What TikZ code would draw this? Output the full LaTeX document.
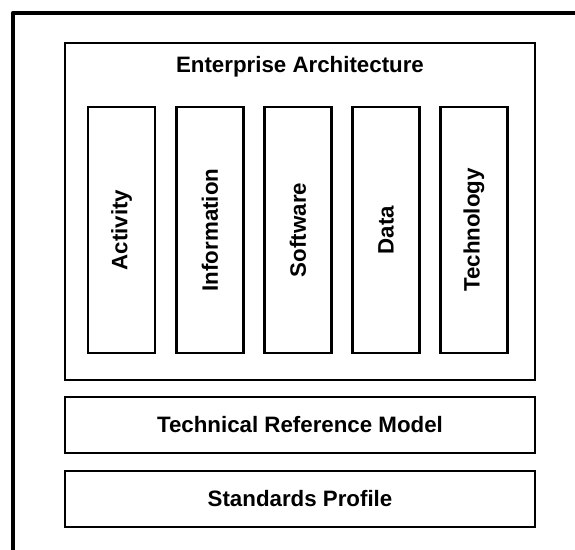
\documentclass[tikz,border=0pt]{standalone}
\usepackage{fontspec}
\setmainfont{Liberation Sans}
\begin{document}
\begin{tikzpicture}[x=1pt,y=-1pt,
  frame/.style={draw=black,line width=4.5pt,line join=round},
  box/.style={draw=black,line width=2.6pt,fill=white},
  label/.style={font=\fontsize{22.3}{25}\selectfont\bfseries,inner sep=0pt},
  pillar/.style={box,minimum width=67pt,minimum height=246pt,inner sep=0pt}]
\useasboundingbox (0,0) rectangle (575,549);
% outer frame runs off the right and bottom edges
\draw[frame] (13,13) rectangle (600,580);
% enterprise architecture block
\node[box,minimum width=470pt,minimum height=337pt,inner sep=0pt] (ea) at (300,211.5) {};
\node[label] (eatitle) at (300,67) {Enterprise Architecture};
% five vertical pillars
\node[pillar] (act) at (121.5,230) {};
\node[pillar] (inf) at (210,230) {};
\node[pillar] (sw) at (298,230) {};
\node[pillar] (dat) at (386,230) {};
\node[pillar] (tech) at (474,230) {};
\node[label,rotate=90] (actl) at (act.center) {Activity};
\node[label,rotate=90] (infl) at (inf.center) {Information};
\node[label,rotate=90] (swl) at (sw.center) {Software};
\node[label,rotate=90] (datl) at (dat.center) {Data};
\node[label,rotate=90] (techl) at (tech.center) {Technology};
% lower bands
\node[box,minimum width=470pt,minimum height=56pt,inner sep=0pt] (trm) at (300,425) {};
\node[label] (trml) at (trm.center) {Technical Reference Model};
\node[box,minimum width=470pt,minimum height=56pt,inner sep=0pt] (sp) at (300,499) {};
\node[label] (spl) at (sp.center) {Standards Profile};
\end{tikzpicture}
\end{document}
